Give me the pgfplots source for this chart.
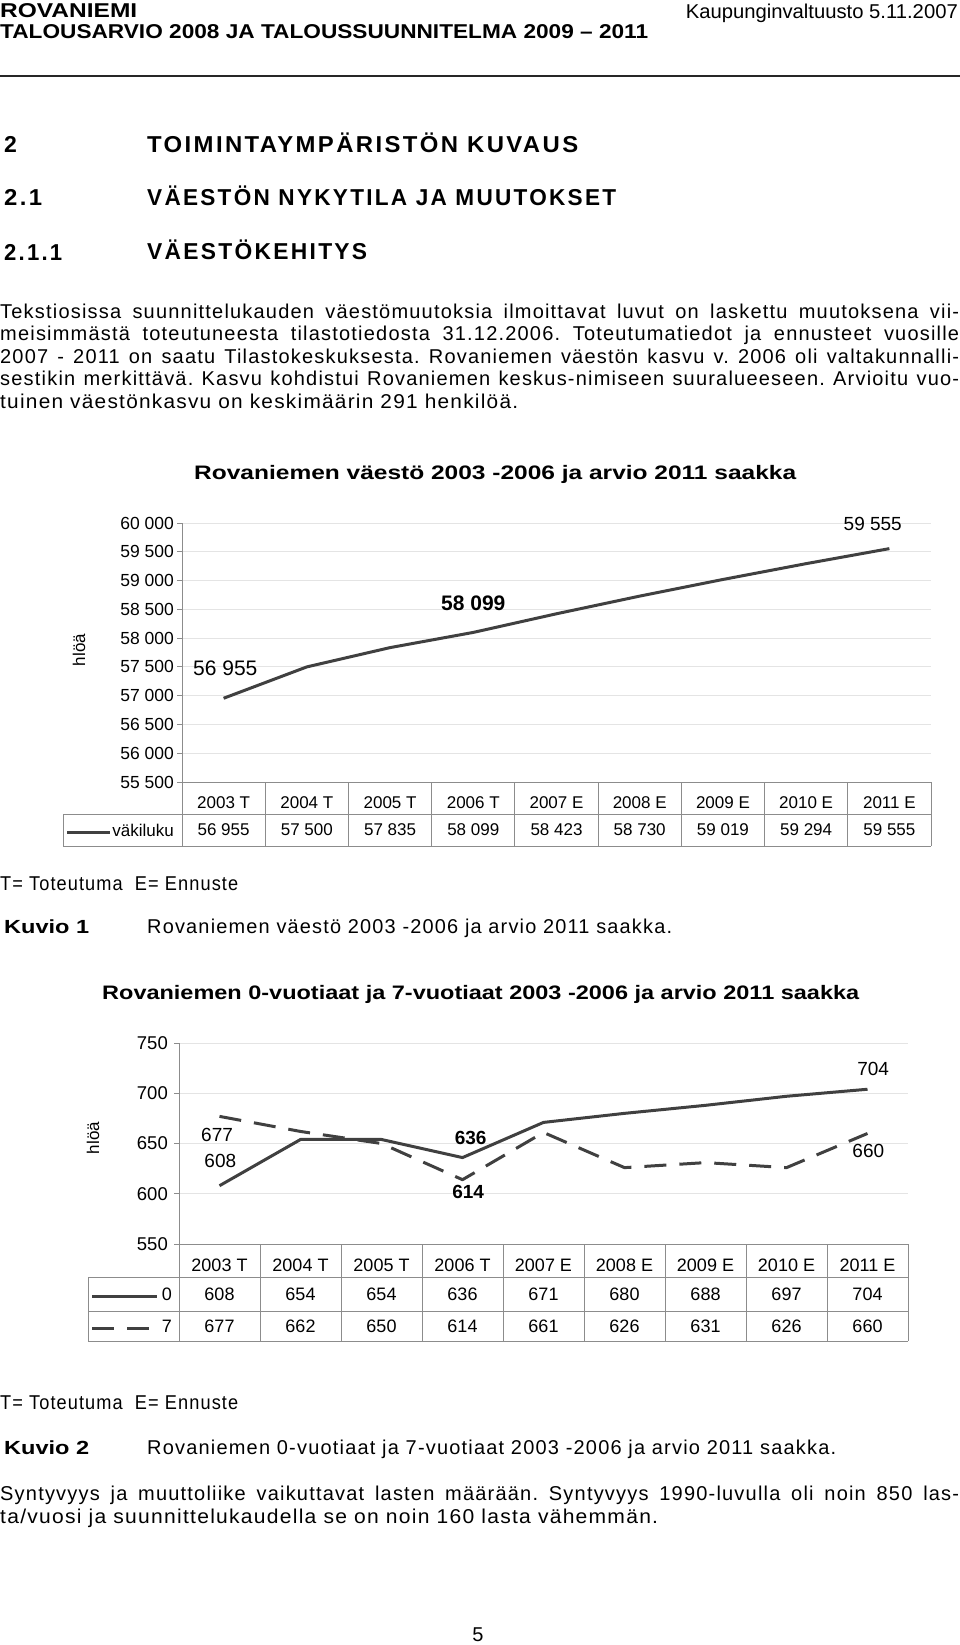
\documentclass[border=0pt]{standalone}
\usepackage{fontspec}
\setmainfont{Liberation Sans}
\newfontfamily\bodyfont[LetterSpace=6]{Liberation Sans}
\newfontfamily\headfont[LetterSpace=10]{Liberation Sans}
\usepackage{graphicx}
\usepackage{pgfplots}
\pgfplotsset{compat=1.18}
\definecolor{linegray}{HTML}{404040}
\definecolor{tablegray}{HTML}{8C8C8C}
\definecolor{gridgray}{HTML}{E4E4E4}
\newcommand\fs[1]{\fontsize{#1}{#1}\selectfont}
\newcommand\fit[2]{\resizebox{#1}{\height}{#2}}
\newcommand\body{\bodyfont\fs{20}\frenchspacing}
\newcommand\head{\headfont\bfseries\fs{23}}
\newsavebox\jbox
\newcommand\just[2]{\sbox\jbox{#2}\ifdim\wd\jbox<#1\relax\makebox[#1][s]{#2}\else\resizebox{#1}{\height}{#2}\fi}
\begin{document}
\begin{tikzpicture}
\useasboundingbox (0,0) rectangle (960pt,-1645pt);
\tikzset{t/.style={anchor=base west, inner sep=0pt}}
% header
\node[t] at (0pt,-18pt) {\fs{20}\bfseries\fit{137pt}{ROVANIEMI}};
\node[t] at (0pt,-39pt) {\fs{20}\bfseries\fit{648pt}{TALOUSARVIO 2008 JA TALOUSSUUNNITELMA 2009 – 2011}};
\node[anchor=base east, inner sep=0pt] at (958pt,-19pt) {\fs{20}\fit{272pt}{Kaupunginvaltuusto 5.11.2007}};
\draw[line width=2pt, black!85] (0pt,-76pt) -- (960pt,-76pt);
% headings
\node[t] at (4pt,-153pt) {\head 2};
\node[t] at (147pt,-153pt) {\head\fit{431pt}{TOIMINTAYMPÄRISTÖN KUVAUS}};
\node[t] at (4pt,-206pt) {\head\fit{38pt}{2.1}};
\node[t] at (147pt,-206pt) {\head\fit{469pt}{VÄESTÖN NYKYTILA JA MUUTOKSET}};
\node[t] at (4pt,-260pt) {\head\fit{58pt}{2.1.1}};
\node[t] at (147pt,-260pt) {\head\fit{220pt}{VÄESTÖKEHITYS}};
% paragraph
\node[t] at (0pt,-318pt) {\body\just{959pt}{Tekstiosissa suunnittelukauden väestömuutoksia ilmoittavat luvut on laskettu muutoksena vii-}};
\node[t] at (0pt,-340.5pt) {\body\just{959pt}{meisimmästä toteutuneesta tilastotiedosta 31.12.2006. Toteutumatiedot ja ennusteet vuosille}};
\node[t] at (0pt,-363pt) {\body\just{959pt}{2007 - 2011 on saatu Tilastokeskuksesta. Rovaniemen väestön kasvu v. 2006 oli valtakunnalli-}};
\node[t] at (0pt,-385.5pt) {\body\just{959pt}{sestikin merkittävä. Kasvu kohdistui Rovaniemen keskus-nimiseen suuralueeseen. Arvioitu vuo-}};
\node[t] at (0pt,-408pt) {\body\fit{518pt}{tuinen väestönkasvu on keskimäärin 291 henkilöä.}};
% chart 1 title
\node[t] at (194pt,-479pt) {\fs{19.5}\bfseries\fit{602pt}{Rovaniemen väestö 2003 -2006 ja arvio 2011 saakka}};

% ---------- chart 1 ----------
\begin{axis}[
  at={(182pt,-782pt)}, anchor=south west,
  width=749pt, height=259pt, scale only axis,
  xmin=0, xmax=9, ymin=55500, ymax=60000,
  clip=false,
  axis lines*=left,
  axis line style={draw=tablegray, line width=1pt, -},
  xtick={0.5,1.5,2.5,3.5,4.5,5.5,6.5,7.5,8.5},
  xticklabels={2003 T,2004 T,2005 T,2006 T,2007 E,2008 E,2009 E,2010 E,2011 E},
  x tick style={draw=none},
  xticklabel style={anchor=center, yshift=-16pt, inner sep=0pt, font=\fs{17}},
  ytick={55500,56000,56500,57000,57500,58000,58500,59000,59500,60000},
  scaled y ticks=false,
  y tick style={draw=tablegray, line width=0.8pt},
  tick align=outside, major tick length=5pt,
  yticklabel style={font=\fs{17.5}, inner sep=0pt, xshift=-3pt},
  ymajorgrids, grid style={draw=gridgray, line width=0.8pt},
  /pgf/number format/.cd, fixed, precision=0, 1000 sep={\ }, assume math mode=true,
]
\addplot[line width=3pt, linegray, line join=round] coordinates {(0.5,56955)(1.5,57500)(2.5,57835)(3.5,58099)(4.5,58423)(5.5,58730)(6.5,59019)(7.5,59294)(8.5,59555)};
\addplot[draw=none, mark=none, nodes near coords, point meta=explicit symbolic,
  every node near coord/.append style={anchor=center, inner sep=0pt, font=\fs{17}}]
  coordinates {(0.5,54667)[56 955] (1.5,54667)[57 500] (2.5,54667)[57 835] (3.5,54667)[58 099] (4.5,54667)[58 423] (5.5,54667)[58 730] (6.5,54667)[59 019] (7.5,54667)[59 294] (8.5,54667)[59 555]};
\node[font=\fs{21}, inner sep=0pt] at (axis cs:0.52,57480) {56 955};
\node[font=\fs{21}\bfseries, inner sep=0pt] at (axis cs:3.5,58608) {58 099};
\node[font=\fs{19}, inner sep=0pt] at (axis cs:8.3,59979) {59 555};
\end{axis}
\foreach \k in {0,...,9} {\draw[tablegray, line width=1pt] ({182pt+\k*83.222pt},-782pt) -- ({182pt+\k*83.222pt},-846pt);}
\draw[tablegray, line width=1pt] (63pt,-814pt) -- (931pt,-814pt) (63pt,-846pt) -- (931pt,-846pt) (63pt,-814pt) -- (63pt,-846pt);
\draw[linegray, line width=3pt] (67pt,-832pt) -- (110pt,-832pt);
\node[anchor=east, font=\fs{17}, inner sep=0pt] at (174pt,-830pt) {väkiluku};
\node[rotate=90, font=\fs{17}, inner sep=0pt] at (79pt,-650pt) {hlöä};

% captions 1
\node[t] at (0pt,-890pt) {\body\fit{238pt}{T= Toteutuma\ \ E= Ennuste}};
\node[t] at (4pt,-933pt) {\fs{19}\bfseries\fit{85pt}{Kuvio 1}};
\node[t] at (147pt,-933pt) {\body\fit{525pt}{Rovaniemen väestö 2003 -2006 ja arvio 2011 saakka.}};
% chart 2 title
\node[t] at (102pt,-999pt) {\fs{19.5}\bfseries\fit{757pt}{Rovaniemen 0-vuotiaat ja 7-vuotiaat 2003 -2006 ja arvio 2011 saakka}};

% ---------- chart 2 ----------
\begin{axis}[
  at={(179pt,-1244pt)}, anchor=south west,
  width=729pt, height=201pt, scale only axis,
  xmin=0, xmax=9, ymin=550, ymax=750,
  clip=false,
  axis lines*=left,
  axis line style={draw=tablegray, line width=1pt, -},
  xtick={0.5,1.5,2.5,3.5,4.5,5.5,6.5,7.5,8.5},
  xticklabels={2003 T,2004 T,2005 T,2006 T,2007 E,2008 E,2009 E,2010 E,2011 E},
  x tick style={draw=none},
  xticklabel style={anchor=center, yshift=-16.5pt, inner sep=0pt, font=\fs{18}},
  ytick={550,600,650,700,750},
  y tick style={draw=tablegray, line width=0.8pt},
  tick align=outside, major tick length=5pt,
  yticklabel style={font=\fs{18.5}, inner sep=0pt, xshift=-6pt},
  ymajorgrids, grid style={draw=gridgray, line width=0.8pt},
  /pgf/number format/.cd, assume math mode=true,
]
\addplot[line width=3pt, linegray, line join=round] coordinates {(0.5,608)(1.5,654)(2.5,654)(3.5,636)(4.5,671)(5.5,680)(6.5,688)(7.5,697)(8.5,704)};
\addplot[line width=3pt, linegray, line join=round, dash pattern=on 22pt off 13pt] coordinates {(0.5,677)(1.5,662)(2.5,650)(3.5,614)(4.5,661)(5.5,626)(6.5,631)(7.5,626)(8.5,660)};
\addplot[draw=none, mark=none, nodes near coords, point meta=explicit symbolic,
  every node near coord/.append style={anchor=center, inner sep=0pt, font=\fs{18}}]
  coordinates {(0.5,500.2)[608] (1.5,500.2)[654] (2.5,500.2)[654] (3.5,500.2)[636] (4.5,500.2)[671] (5.5,500.2)[680] (6.5,500.2)[688] (7.5,500.2)[697] (8.5,500.2)[704]};
\addplot[draw=none, mark=none, nodes near coords, point meta=explicit symbolic,
  every node near coord/.append style={anchor=center, inner sep=0pt, font=\fs{18}}]
  coordinates {(0.5,468.3)[677] (1.5,468.3)[662] (2.5,468.3)[650] (3.5,468.3)[614] (4.5,468.3)[661] (5.5,468.3)[626] (6.5,468.3)[631] (7.5,468.3)[626] (8.5,468.3)[660]};
\node[font=\fs{19}, inner sep=0pt] at (axis cs:0.47,658.6) {677};
\node[font=\fs{19}, inner sep=0pt] at (axis cs:0.51,632.7) {608};
\node[font=\fs{19}\bfseries, inner sep=0pt] at (axis cs:3.60,655.6) {636};
\node[font=\fs{19}\bfseries, inner sep=0pt] at (axis cs:3.57,601.8) {614};
\node[font=\fs{19}, inner sep=0pt] at (axis cs:8.57,724.3) {704};
\node[font=\fs{19}, inner sep=0pt] at (axis cs:8.51,642.6) {660};
\end{axis}
\foreach \k in {0,...,9} {\draw[tablegray, line width=1pt] ({179pt+\k*81pt},-1244pt) -- ({179pt+\k*81pt},-1341pt);}
\draw[tablegray, line width=1pt] (88pt,-1277pt) -- (908pt,-1277pt) (88pt,-1311pt) -- (908pt,-1311pt) (88pt,-1341pt) -- (908pt,-1341pt) (88pt,-1277pt) -- (88pt,-1341pt);
\draw[linegray, line width=3pt] (92pt,-1296pt) -- (157pt,-1296pt);
\draw[linegray, line width=3pt, dash pattern=on 22pt off 13pt] (92pt,-1328pt) -- (150pt,-1328pt);
\node[anchor=east, font=\fs{18}, inner sep=0pt] at (172pt,-1294pt) {0};
\node[anchor=east, font=\fs{18}, inner sep=0pt] at (172pt,-1326pt) {7};
\node[rotate=90, font=\fs{17}, inner sep=0pt] at (93pt,-1138pt) {hlöä};

% captions 2
\node[t] at (0pt,-1409pt) {\body\fit{238pt}{T= Toteutuma\ \ E= Ennuste}};
\node[t] at (4pt,-1454pt) {\fs{19}\bfseries\fit{85pt}{Kuvio 2}};
\node[t] at (147pt,-1454pt) {\body\fit{689pt}{Rovaniemen 0-vuotiaat ja 7-vuotiaat 2003 -2006 ja arvio 2011 saakka.}};
\node[t] at (0pt,-1500pt) {\body\just{959pt}{Syntyvyys ja muuttoliike vaikuttavat lasten määrään. Syntyvyys 1990-luvulla oli noin 850 las-}};
\node[t] at (0pt,-1523pt) {\body\fit{658pt}{ta/vuosi ja suunnittelukaudella se on noin 160 lasta vähemmän.}};
\node[anchor=base, inner sep=0pt] at (478pt,-1641pt) {\body 5};
\end{tikzpicture}
\end{document}
